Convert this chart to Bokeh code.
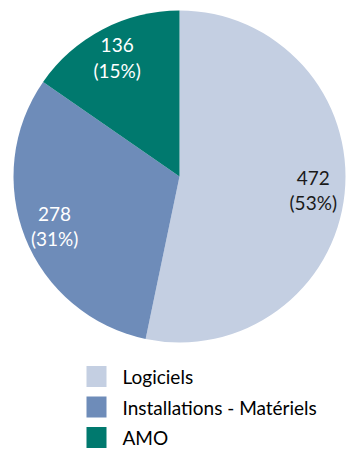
import math
from bokeh.plotting import figure
from bokeh.models import Range1d, ColumnDataSource
from bokeh.core.properties import value
from bokeh.embed import file_html
from bokeh.resources import INLINE

categories = ["Logiciels", "Installations - Matériels", "AMO"]
values = [472, 278, 136]
colors = ["#C4CFE2", "#6E8CB9", "#00796E"]
label_colors = ["#1a1a1a", "#ffffff", "#ffffff"]

W, H = 355, 455
cx, cy, R = 179, H - 176, 166
FONT = "Lato"

total = sum(values)
starts, ends, lx, ly, labels = [], [], [], [], []
cum = 0.0
for v in values:
    a0 = math.pi / 2 - 2 * math.pi * cum / total
    cum += v
    a1 = math.pi / 2 - 2 * math.pi * cum / total
    starts.append(a0)
    ends.append(a1)
    mid = (a0 + a1) / 2
    lx.append(cx + 0.81 * R * math.cos(mid))
    ly.append(cy + 0.81 * R * math.sin(mid))
    labels.append(f"{v}\n({round(v / total * 100)}%)")

src = ColumnDataSource(dict(start=starts, end=ends, color=colors, lx=lx, ly=ly,
                            label=labels, lcolor=label_colors, cat=categories,
                            sx=[96] * 3, sy=[H - 376 - 30.5 * i for i in range(3)],
                            tx=[122] * 3))

p = figure(width=W, height=H, x_range=Range1d(0, W), y_range=Range1d(0, H),
           output_backend="svg", toolbar_location=None, min_border=0,
           x_axis_location=None, y_axis_location=None)
p.grid.visible = False
p.outline_line_color = None

p.wedge(x=cx, y=cy, radius=R, start_angle="start", end_angle="end",
        direction="clock", fill_color="color", line_color=None, source=src)

p.text(x="lx", y="ly", text="label", text_color="lcolor", text_align="center",
       text_baseline="middle", text_font=value(FONT), text_font_size="19px",
       text_line_height=1.1, source=src)

p.rect(x="sx", y="sy", width=20, height=21, fill_color="color", line_color=None, source=src)
p.text(x="tx", y="sy", text="cat", text_color="#000000", text_align="left",
       text_baseline="middle", text_font=value(FONT), text_font_size="19px", source=src)

open("out.html", "w").write(file_html(p, INLINE))
